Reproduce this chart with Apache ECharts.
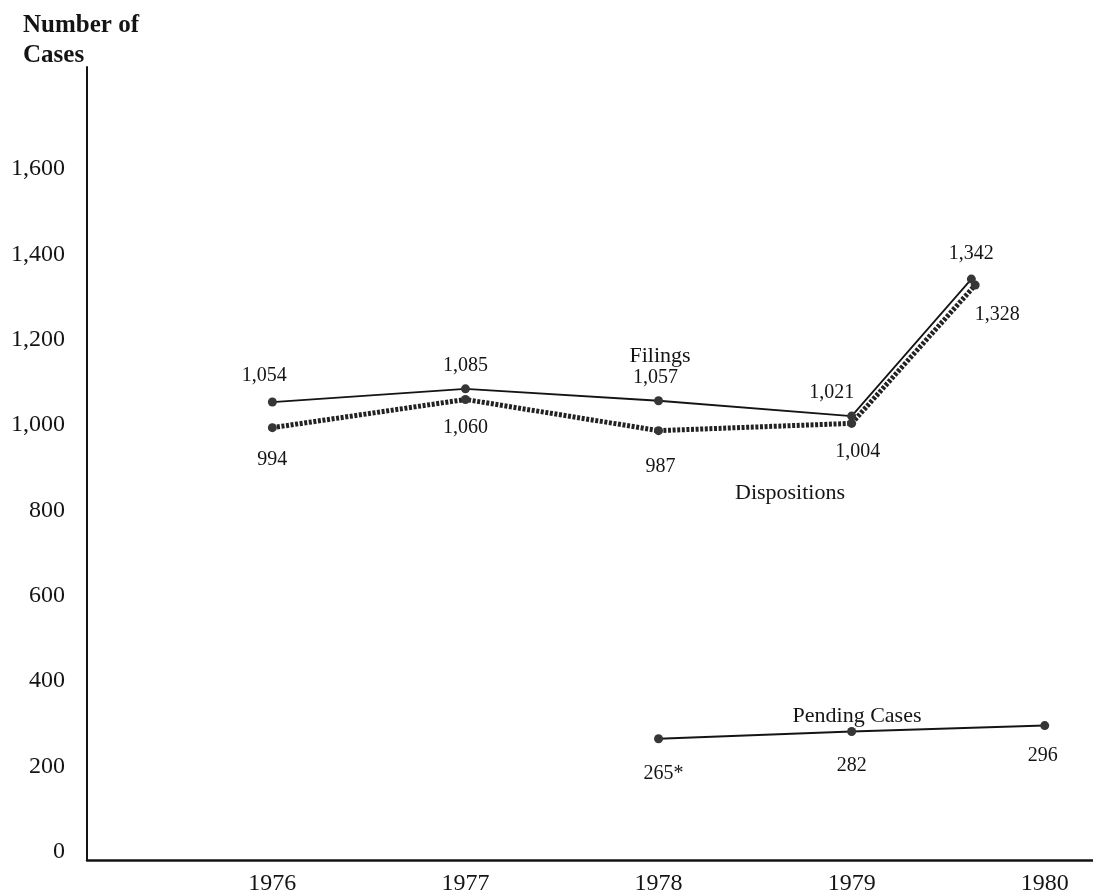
<!DOCTYPE html>
<html>
<head>
<meta charset="utf-8">
<script src="https://cdn.jsdelivr.net/npm/echarts@6/dist/echarts.min.js"></script>
<style>
  html, body { margin: 0; padding: 0; background: #ffffff; }
  #chart { width: 1093px; height: 896px; }
</style>
</head>
<body>
<div id="chart"></div>
<script>
// ---- data ----
const yearTicks = [1976, 1977, 1978, 1979, 1980];
const valueTicks = [0, 200, 400, 600, 800, 1000, 1200, 1400, 1600];
// plotted year positions (last Filings/Dispositions point is drawn left of the 1980 tick in the original)
const filingsYears = [1976, 1977, 1978, 1979, 1979.62];
const filings = [1054, 1085, 1057, 1021, 1342];
const dispositionsYears = [1976, 1977, 1978, 1979, 1979.64];
const dispositions = [994, 1060, 987, 1004, 1328];
const pendingYears = [1978, 1979, 1980];
const pending = [265, 282, 296];
const pendingNotes = ['*', '', ''];
const seriesNames = ['Filings', 'Dispositions', 'Pending Cases'];
const yAxisTitle = 'Number of\nCases';

// ---- styling ----
const FONT = '"Liberation Serif", "Times New Roman", "DejaVu Serif", serif';
const INK = '#141414';
const DOT = '#363636';
const fmt = v => Math.round(v).toLocaleString('en-US');

// label placement per point (style only)
const filingsLabelLayout = [
  { p: 'top', o: [-8, -3] }, { p: 'top', o: [0, 0] }, { p: 'top', o: [-3, 0] },
  { p: 'top', o: [-20, 0] }, { p: 'top', o: [0, -2] }
];
const dispositionsLabelLayout = [
  { p: 'bottom', o: [0, 6] }, { p: 'bottom', o: [0, 2] }, { p: 'bottom', o: [2, 10] },
  { p: 'bottom', o: [6, 2] }, { p: 'bottom', o: [22, 3] }
];
const pendingLabelLayout = [
  { p: 'bottom', o: [5, 8] }, { p: 'bottom', o: [0, 8] }, { p: 'bottom', o: [-2, 4] }
];

function build(xs, ys, layout, notes) {
  return ys.map((v, i) => ({
    value: [xs[i], v],
    label: {
      show: true,
      position: layout[i].p,
      distance: layout[i].p === 'top' ? 9 : 12,
      offset: layout[i].o,
      formatter: () => fmt(v) + (notes ? notes[i] : '')
    }
  }));
}

const labelBase = { color: INK, fontFamily: FONT, fontSize: 20 };
const noteFont = '22px ' + FONT;

const chart = echarts.init(document.getElementById('chart'), null, { renderer: 'canvas' });
chart.setOption({
  backgroundColor: '#ffffff',
  animation: false,
  textStyle: { fontFamily: FONT, color: INK },
  title: {
    text: yAxisTitle,
    left: 18, top: 6,
    textStyle: { fontFamily: FONT, fontWeight: 'bold', fontSize: 25, lineHeight: 30, color: INK }
  },
  grid: { left: 87, right: 0, top: 67, bottom: 36, containLabel: false },
  xAxis: {
    type: 'value',
    min: 1975.04, max: 1980.25,
    axisLine: { show: true, lineStyle: { color: INK, width: 2.5 }, onZero: false },
    axisTick: { show: false },
    splitLine: { show: false },
    axisLabel: {
      customValues: yearTicks,
      formatter: v => String(Math.round(v)),
      color: INK, fontFamily: FONT, fontSize: 24, margin: 12
    }
  },
  yAxis: {
    type: 'value',
    min: -19, max: 1839,
    axisLine: { show: true, lineStyle: { color: INK, width: 2 }, onZero: false },
    axisTick: { show: false },
    splitLine: { show: false },
    axisLabel: {
      customValues: valueTicks,
      formatter: v => fmt(v),
      color: INK, fontFamily: FONT, fontSize: 24, margin: 22
    }
  },
  series: [
    {
      name: seriesNames[0], type: 'line',
      data: build(filingsYears, filings, filingsLabelLayout),
      symbol: 'circle', symbolSize: 9,
      itemStyle: { color: DOT },
      lineStyle: { color: INK, width: 1.8 },
      label: labelBase, z: 3
    },
    {
      name: seriesNames[1], type: 'line',
      data: build(dispositionsYears, dispositions, dispositionsLabelLayout),
      symbol: 'circle', symbolSize: 9,
      itemStyle: { color: DOT },
      lineStyle: { color: '#222', width: 5, type: [3, 1.6] },
      label: labelBase, z: 2
    },
    {
      name: seriesNames[2], type: 'line',
      data: build(pendingYears, pending, pendingLabelLayout, pendingNotes),
      symbol: 'circle', symbolSize: 9,
      itemStyle: { color: DOT },
      lineStyle: { color: INK, width: 2 },
      label: labelBase, z: 3
    }
  ],
  graphic: [
    { type: 'text', x: 660, y: 356, style: { text: seriesNames[0], fill: INK, font: noteFont, textAlign: 'center', textVerticalAlign: 'middle' } },
    { type: 'text', x: 790, y: 493, style: { text: seriesNames[1], fill: INK, font: noteFont, textAlign: 'center', textVerticalAlign: 'middle' } },
    { type: 'text', x: 857, y: 716, style: { text: seriesNames[2], fill: INK, font: noteFont, textAlign: 'center', textVerticalAlign: 'middle' } }
  ]
});
</script>
</body>
</html>
